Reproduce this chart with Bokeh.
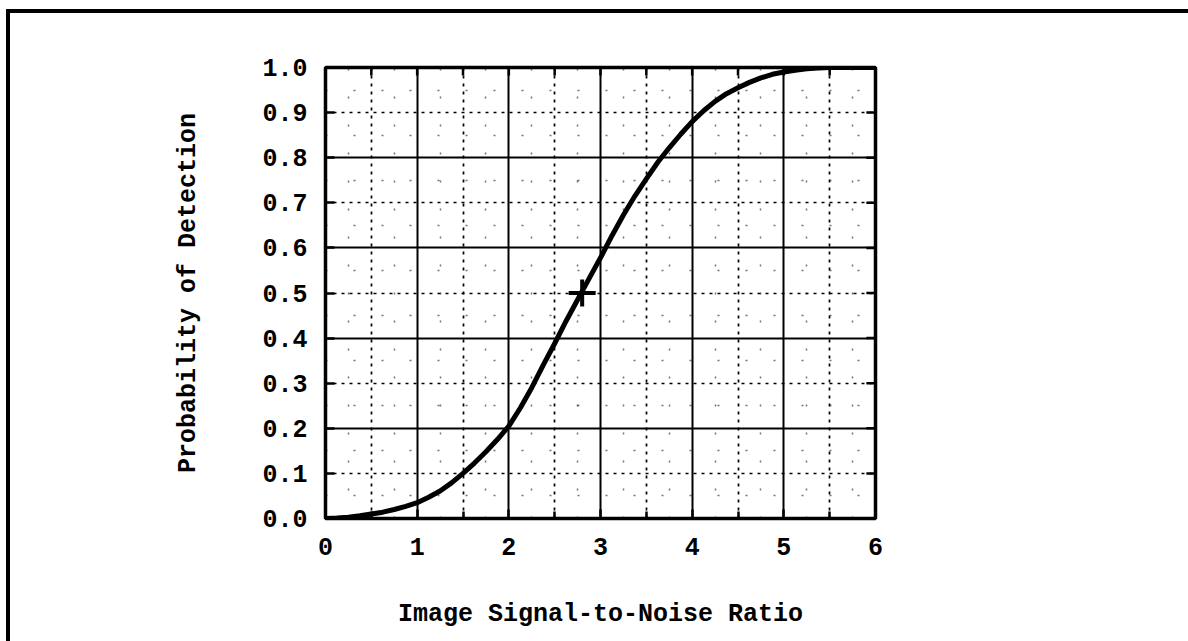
from bokeh.plotting import figure
from bokeh.models import FixedTicker, Grid, NumeralTickFormatter, Column
from bokeh.embed import file_html
from bokeh.resources import INLINE

# ---- data ----
snr = [0.0, 0.125, 0.25, 0.375, 0.5, 0.625, 0.75, 0.875,
       1.0, 1.125, 1.25, 1.375, 1.5, 1.625, 1.75, 1.875,
       2.0, 2.125, 2.25, 2.375, 2.5, 2.625, 2.75, 2.875,
       3.0, 3.125, 3.25, 3.375, 3.5, 3.625, 3.75, 3.875,
       4.0, 4.125, 4.25, 4.375, 4.5, 4.625, 4.75, 4.875,
       5.0, 5.125, 5.25, 5.375, 5.5, 5.75, 6.0]
pd_ = [0.000, 0.001, 0.003, 0.006, 0.010, 0.014, 0.020, 0.027,
       0.035, 0.047, 0.061, 0.079, 0.100, 0.123, 0.148, 0.175,
       0.205, 0.245, 0.290, 0.340, 0.388, 0.438, 0.485, 0.532,
       0.578, 0.627, 0.673, 0.715, 0.753, 0.790, 0.822, 0.852,
       0.880, 0.904, 0.925, 0.942, 0.955, 0.967, 0.977, 0.985,
       0.990, 0.994, 0.997, 0.999, 1.000, 1.000, 1.000]
mark_x = [2.8]
mark_y = [0.5]

x_ticks = [0, 1, 2, 3, 4, 5, 6]
x_half = [0.5, 1.5, 2.5, 3.5, 4.5, 5.5]
x_quarter = [0.25, 0.75, 1.25, 1.75, 2.25, 2.75, 3.25, 3.75, 4.25, 4.75, 5.25, 5.75]
y_ticks = [0.0, 0.1, 0.2, 0.3, 0.4, 0.5, 0.6, 0.7, 0.8, 0.9, 1.0]
y_solid = [0.2, 0.4, 0.6, 0.8]
y_dash = [0.1, 0.3, 0.5, 0.7, 0.9]
y_fine = [0.05, 0.15, 0.25, 0.35, 0.45, 0.55, 0.65, 0.75, 0.85, 0.95]

x_title = "Image Signal-to-Noise Ratio"
y_title = "Probability of Detection"

FONT = "Liberation Mono"
FS = "25px"
X0, X1, Y0, Y1 = 0, 6, 0, 1

p = figure(width=1188, height=641, x_range=(X0, X1), y_range=(Y0, Y1),
           output_backend="svg", toolbar_location=None,
           min_border_left=325, min_border_right=313,
           min_border_top=67, min_border_bottom=123,
           background_fill_color="white", border_fill_color=None)

p.outline_line_color = "black"
p.outline_line_width = 3.5

# grids
p.xgrid.ticker = FixedTicker(ticks=x_ticks[1:-1], minor_ticks=x_half)
p.xgrid.grid_line_color = "black"
p.xgrid.grid_line_width = 2
p.xgrid.minor_grid_line_color = "black"
p.xgrid.minor_grid_line_width = 1.7
p.xgrid.minor_grid_line_dash = "3 5"

p.ygrid.ticker = FixedTicker(ticks=y_solid, minor_ticks=y_dash)
p.ygrid.grid_line_color = "black"
p.ygrid.grid_line_width = 2
p.ygrid.minor_grid_line_color = "black"
p.ygrid.minor_grid_line_width = 1.7
p.ygrid.minor_grid_line_dash = "3 5"

gx = Grid(dimension=0, ticker=FixedTicker(ticks=x_quarter),
          grid_line_color="black", grid_line_alpha=0.55, grid_line_width=1.5,
          grid_line_dash="2 26")
gy = Grid(dimension=1, ticker=FixedTicker(ticks=y_fine),
          grid_line_color="black", grid_line_alpha=0.55, grid_line_width=1.5,
          grid_line_dash="2 26")
p.add_layout(gx)
p.add_layout(gy)

# axes
xa = p.xaxis[0]
xa.ticker = FixedTicker(ticks=x_ticks, minor_ticks=x_half)
ya = p.yaxis[0]
ya.ticker = FixedTicker(ticks=y_ticks)
ya.formatter = NumeralTickFormatter(format="0.0")

for ax in (xa, ya):
    ax.axis_line_color = None
    ax.major_tick_in = 9
    ax.major_tick_out = 0
    ax.minor_tick_in = 7
    ax.minor_tick_out = 0
    ax.major_tick_line_width = 2.5
    ax.minor_tick_line_width = 2.5
    ax.major_tick_line_color = "black"
    ax.minor_tick_line_color = "black"
    ax.major_label_text_font = FONT
    ax.major_label_text_font_size = FS
    ax.major_label_text_font_style = "bold"
    ax.major_label_text_color = "black"
    ax.axis_label_text_font = FONT
    ax.axis_label_text_font_size = FS
    ax.axis_label_text_font_style = "bold"
    ax.axis_label_text_color = "black"

xa.axis_label = x_title
xa.major_label_standoff = 19
xa.axis_label_standoff = 42
ya.axis_label = y_title
ya.major_label_standoff = 18
ya.axis_label_standoff = 56

# mirrored inward ticks on the top and right edges
top_x = x_ticks + x_half
p.segment(x0=top_x, y0=[Y1] * len(top_x), x1=top_x, y1=[Y1 - 0.018] * len(top_x),
          line_color="black", line_width=2.5)
p.segment(x0=[X1] * len(y_ticks), y0=y_ticks, x1=[X1 - 0.1] * len(y_ticks), y1=y_ticks,
          line_color="black", line_width=2.5)

# curve and marker
p.line(snr, pd_, line_color="black", line_width=5, line_join="round", line_cap="round")
p.scatter(mark_x, mark_y, marker="cross", size=27, line_color="black", line_width=4)

# top and left edge lines of the scanned page, as the background of a wrapping column
page = Column(children=[p], width=1200, height=641, styles={
    "background-color": "white",
    "background-image": "linear-gradient(black, black), linear-gradient(black, black)",
    "background-size": "1193px 4px, 4px 632px",
    "background-position": "7px 9px, 6px 9px",
    "background-repeat": "no-repeat",
    "overflow": "hidden",
})

open("out.html", "w").write(file_html(page, INLINE))
